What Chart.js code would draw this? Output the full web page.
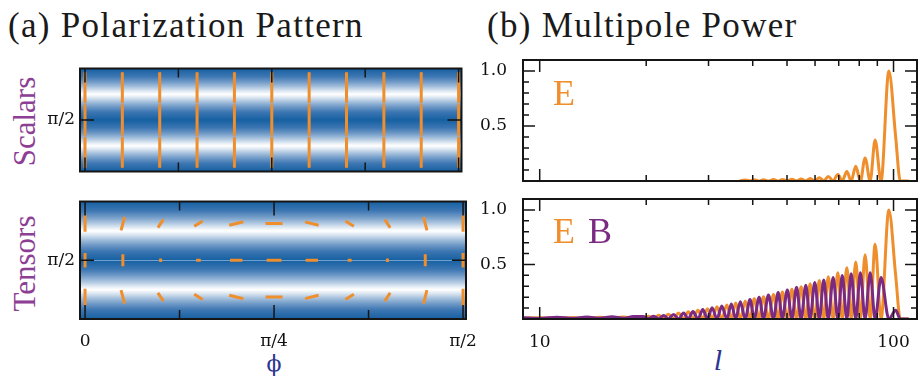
<!DOCTYPE html>
<html lang="en">
<head>
<meta charset="UTF-8">
<title>Polarization Pattern / Multipole Power</title>
<script src="https://cdn.jsdelivr.net/npm/chart.js@4"></script>
<style>
    body {
        margin: 0;
        padding: 0;
        width: 920px;
        height: 376px;
        position: relative;
        overflow: hidden;
        background: #fff;
        font-family: 'Liberation Serif', 'DejaVu Serif', serif;
        color: #1a1a1a;
    }
    canvas { position: absolute; }
    .txt { position: absolute; white-space: nowrap; line-height: 1; }
    .title { font-size: 35px; letter-spacing: 1.3px; top: 8px; }
    .side { font-size: 31px; color: #8d3f95; width: 200px; height: 31px; text-align: center; transform: rotate(-90deg); }
    .tag { font-size: 36px; }
    .axis { color: #2c3592; transform: translate(-50%, -50%); }
</style>
</head>
<body>

<div class="txt title" style="left:8px;">(a) Polarization Pattern</div>
<div class="txt title" style="left:487px;">(b) Multipole Power</div>
<div class="txt side" style="left:-76px; top:106px;">Scalars</div>
<div class="txt side" style="left:-76px; top:248px;">Tensors</div>
<div class="txt axis" style="left:274px; top:364px; font-size:22px; font-family:'DejaVu Serif', serif;">ϕ</div>
<div class="txt axis" style="left:718px; top:360px; font-size:30px; font-style:italic;">l</div>

<canvas id="scalarMap" width="480" height="140" style="left:0; top:50px;"></canvas>
<canvas id="tensorMap" width="480" height="160" style="left:0; top:190px;"></canvas>
<canvas id="powerE" width="450" height="140" style="left:470px; top:50px;"></canvas>
<canvas id="powerEB" width="450" height="160" style="left:470px; top:190px;"></canvas>

<div class="txt tag" style="left:553px; top:75px; color:#ef8e2c;">E</div>
<div class="txt tag" style="left:553px; top:213px; color:#ef8e2c;">E</div>
<div class="txt tag" style="left:588px; top:213px; color:#7b2a84;">B</div>

<script>
    // ---- (a) polarization pattern: stick grid ----
    const phiCols = [0, 9, 18, 27, 36, 45, 54, 63, 72, 81, 90];   // degrees
    const thetaRows = [81, 90, 99];                                // degrees
    const phiTicks = [0, 45, 90];
    const phiTickLabels = ['0', 'π/4', 'π/2'];
    const phiMinor = [22.5, 67.5];
    const thetaTicks = [90];
    const thetaTickLabels = ['π/2'];
    const bandTheta = [82.8, 97.2];   // white stripes of the intensity map

    // stick orientation (deg, clockwise from horizontal) and relative length
    const scalarAngle = [
        [90, 90, 90, 90, 90, 90, 90, 90, 90, 90, 90],
        [90, 90, 90, 90, 90, 90, 90, 90, 90, 90, 90],
        [90, 90, 90, 90, 90, 90, 90, 90, 90, 90, 90]
    ];
    const scalarAmp = [
        [1, 1, 1, 1, 1, 1, 1, 1, 1, 1, 1],
        [1, 1, 1, 1, 1, 1, 1, 1, 1, 1, 1],
        [1, 1, 1, 1, 1, 1, 1, 1, 1, 1, 1]
    ];
    const tensorAngle = [
        [90, -75, -56, -32, -14, 0, 14, 32, 57, 76, 90],
        [90, 90, 90, 0, 0, 0, 0, 0, 90, 90, 90],
        [90, 75, 56, 32, 14, 0, -14, -32, -57, -76, 90]
    ];
    const tensorAmp = [
        [0.53, 0.45, 0.32, 0.32, 0.47, 0.55, 0.45, 0.32, 0.32, 0.45, 0.53],
        [0.47, 0.39, 0.11, 0.15, 0.40, 0.48, 0.40, 0.13, 0.11, 0.39, 0.47],
        [0.53, 0.45, 0.32, 0.32, 0.47, 0.55, 0.45, 0.32, 0.32, 0.45, 0.53]
    ];

    // ---- (b) multipole power ----
    const ell = [9.0, 10.0, 11.2, 12.4, 13.6, 14.8, 16.0, 17.2, 18.4,
        19.6, 20.3, 21.0, 21.7, 22.4, 23.1, 23.9, 24.7, 25.5, 26.3, 27.1, 28.0, 28.9, 29.8,
        30.7, 31.7, 32.7, 33.8, 34.8, 35.8, 36.9, 38.1, 39.3, 40.4, 41.7, 42.9, 44.3, 45.8,
        47.2, 48.5, 50.1, 51.6, 53.2, 54.8, 56.5, 58.1, 59.9, 61.7, 63.5, 65.4, 67.5, 69.6,
        71.6, 73.8, 75.9, 78.2, 80.6, 83.1, 85.9, 88.7, 92.2, 97.0, 101.4, 104.5, 110.0];
    const eScalar = [null, null, null, null, null, null, null, null, null,
        null, null, null, null, null, null, null, null, null, null, null, null, null, null,
        null, null, null, null, null, null, 0.002, 0.010, 0, 0.011, 0, 0.012, 0, 0.013,
        0, 0.014, 0, 0.016, 0, 0.019, 0, 0.023, 0, 0.030, 0, 0.042, 0, 0.060,
        0, 0.087, 0, 0.134, 0, 0.210, 0, 0.373, 0, 1.0, 0.40, 0, 0];
    const eTensor = [0.008, 0.012, 0.007, 0.013, 0.007, 0.015, 0.008, 0.018, 0.008,
        0.006, 0.026, 0.005, 0.034, 0.004, 0.043, 0.004, 0.054, 0.003, 0.066, 0.003, 0.080, 0.002, 0.095,
        0.002, 0.112, 0.002, 0.128, 0.001, 0.147, 0.001, 0.165, 0, 0.185, 0, 0.205, 0, 0.224,
        0, 0.248, 0, 0.272, 0, 0.296, 0, 0.324, 0, 0.352, 0, 0.388, 0, 0.425,
        0, 0.470, 0, 0.522, 0, 0.590, 0, 0.685, 0, 1.0, 0.40, 0, 0];
    const bTensor = [0.012, 0.005, 0.016, 0.005, 0.018, 0.006, 0.020, 0.006, 0.022,
        0.024, 0.004, 0.026, 0.003, 0.033, 0.003, 0.042, 0.002, 0.055, 0.002, 0.068, 0.002, 0.086, 0.001,
        0.103, 0.001, 0.120, 0, 0.138, 0, 0.158, 0, 0.178, 0, 0.200, 0, 0.220, 0,
        0.243, 0, 0.266, 0, 0.290, 0, 0.310, 0, 0.335, 0, 0.357, 0, 0.380, 0,
        0.398, 0, 0.415, 0, 0.425, 0, 0.425, 0, 0.380, 0, 0.08, 0, 0];
    const ellTicks = [10, 100];
    const ellTickLabels = ['10', '100'];
    const ellMinor = [20, 30, 40, 50, 60, 70, 80, 90];
    const powerTicks = [0.5, 1.0];
    const powerTickLabels = ['0.5', '1.0'];
    const powerMinor = [0.1, 0.2, 0.3, 0.4, 0.6, 0.7, 0.8, 0.9];

    const ORANGE = '#ef8e2c';
    const PURPLE = '#7b2a84';
    const STICK_LEN = 31;
    const tickFont = { family: "'DejaVu Serif', serif", size: 17 };

    // blue intensity map behind the sticks
    const bandRamp = [[0, [255, 255, 255]], [0.8, [225, 234, 243]], [2, [170, 196, 222]],
                      [3.5, [110, 152, 198]], [5, [60, 118, 178]], [7.2, [22, 96, 162]]];
    function rampColor(d) {
        for (let i = 1; i < bandRamp.length; i++) {
            if (d <= bandRamp[i][0]) {
                const [d0, c0] = bandRamp[i - 1], [d1, c1] = bandRamp[i];
                const t = (d - d0) / (d1 - d0);
                return 'rgb(' + c0.map((c, k) => Math.round(c + (c1[k] - c) * t)).join(',') + ')';
            }
        }
        return 'rgb(' + bandRamp[bandRamp.length - 1][1].join(',') + ')';
    }
    const bandsPlugin = {
        id: 'bands',
        beforeDraw(chart) {
            const { ctx, chartArea: a, scales: { y } } = chart;
            const g = ctx.createLinearGradient(0, a.top, 0, a.bottom);
            for (let i = 0; i <= 80; i++) {
                const th = y.getValueForPixel(a.top + a.height * i / 80);
                const d = Math.min(...bandTheta.map(b => Math.abs(th - b)));
                g.addColorStop(i / 80, rampColor(d));
            }
            ctx.save();
            ctx.fillStyle = g;
            ctx.fillRect(a.left, a.top, a.width, a.height);
            ctx.restore();
        }
    };

    // box outline with inward ticks on all four sides
    const framePlugin = {
        id: 'frame',
        afterDraw(chart, args, o) {
            const { ctx, chartArea: a, scales: { x, y } } = chart;
            ctx.save();
            ctx.strokeStyle = '#151515';
            ctx.lineWidth = 1.5;
            ctx.beginPath();
            const xt = (vals, len) => vals.forEach(v => {
                const p = x.getPixelForValue(v);
                ctx.moveTo(p, a.top); ctx.lineTo(p, a.top + len);
                ctx.moveTo(p, a.bottom); ctx.lineTo(p, a.bottom - len);
            });
            const yt = (vals, len) => vals.forEach(v => {
                const p = y.getPixelForValue(v);
                ctx.moveTo(a.left, p); ctx.lineTo(a.left + len, p);
                ctx.moveTo(a.right, p); ctx.lineTo(a.right - len, p);
            });
            xt(o.xMajor, o.majorLen); xt(o.xMinor, o.minorLen);
            yt(o.yMajor, o.majorLen); yt(o.yMinor, o.minorLen);
            ctx.stroke();
            ctx.lineWidth = 2;
            ctx.strokeRect(a.left, a.top, a.width, a.height);
            ctx.restore();
        }
    };

    function stickData(angles, amps) {
        const pts = [], rot = [], rad = [];
        thetaRows.forEach((th, r) => phiCols.forEach((ph, c) => {
            pts.push({ x: ph, y: th });
            rot.push(angles[r][c]);
            rad.push(amps[r][c] * STICK_LEN / 2);
        }));
        return { pts, rot, rad };
    }

    function makeMap(id, angles, amps, padTop, xHeight, showX, midLine) {
        const s = stickData(angles, amps);
        return new Chart(document.getElementById(id), {
            type: 'scatter',
            data: {
                datasets: [{
                    data: s.pts,
                    pointStyle: 'line',
                    pointRotation: s.rot,
                    pointRadius: s.rad,
                    pointHoverRadius: s.rad,
                    pointBorderColor: ORANGE,
                    pointBackgroundColor: ORANGE,
                    pointBorderWidth: 3
                }]
            },
            options: {
                responsive: false,
                animation: false,
                devicePixelRatio: 1,
                events: [],
                layout: { padding: { top: padTop, right: 14, bottom: 0, left: 0 } },
                plugins: {
                    legend: { display: false },
                    tooltip: { enabled: false },
                    frame: { xMajor: phiTicks, xMinor: phiMinor, yMajor: thetaTicks, yMinor: [], majorLen: 14, minorLen: 9 }
                },
                scales: {
                    x: {
                        type: 'linear', min: -1.2, max: 90.7,
                        afterBuildTicks: sc => { sc.ticks = phiTicks.map(v => ({ value: v })); },
                        afterFit: sc => { sc.height = xHeight; sc.paddingLeft = 0; sc.paddingRight = 0; },
                        grid: { display: false },
                        border: { display: false },
                        ticks: { display: showX, padding: 4, font: tickFont, color: '#111', maxRotation: 0,
                                 callback: (v, i) => phiTickLabels[i] }
                    },
                    y: {
                        type: 'linear', reverse: true, min: 75.6, max: 104.4,
                        afterBuildTicks: sc => { sc.ticks = thetaTicks.map(v => ({ value: v })); },
                        afterFit: sc => { sc.width = 80; sc.paddingTop = 0; sc.paddingBottom = 0; },
                        grid: { display: midLine, drawTicks: false, color: 'rgba(150,190,228,0.7)', lineWidth: 1 },
                        border: { display: false },
                        ticks: { padding: 5, font: tickFont, color: '#111', callback: (v, i) => thetaTickLabels[i] }
                    }
                }
            },
            plugins: [bandsPlugin, framePlugin]
        });
    }

    function series(values, color) {
        return {
            data: ell.map((l, i) => ({ x: l, y: values[i] })).filter(p => p.y !== null),
            borderColor: color,
            borderWidth: 3,
            pointRadius: 0,
            fill: false,
            cubicInterpolationMode: 'monotone',
            borderJoinStyle: 'round',
            borderCapStyle: 'round'
        };
    }

    function makePower(id, datasets, padTop, xHeight, showX) {
        return new Chart(document.getElementById(id), {
            type: 'line',
            data: { datasets },
            options: {
                responsive: false,
                animation: false,
                devicePixelRatio: 1,
                events: [],
                layout: { padding: { top: padTop, right: 3, bottom: 0, left: 0 } },
                plugins: {
                    legend: { display: false },
                    tooltip: { enabled: false },
                    frame: { xMajor: ellTicks, xMinor: ellMinor, yMajor: powerTicks, yMinor: powerMinor, majorLen: 12, minorLen: 6 }
                },
                scales: {
                    x: {
                        type: 'logarithmic', min: 8.97, max: 116.5,
                        afterBuildTicks: sc => { sc.ticks = ellTicks.map(v => ({ value: v })); },
                        afterFit: sc => { sc.height = xHeight; sc.paddingLeft = 0; sc.paddingRight = 0; },
                        grid: { display: false },
                        border: { display: false },
                        ticks: { display: showX, padding: 5, font: tickFont, color: '#111', maxRotation: 0,
                                 callback: (v, i) => ellTickLabels[i] }
                    },
                    y: {
                        type: 'linear', min: 0, max: 1.1,
                        afterBuildTicks: sc => { sc.ticks = powerTicks.map(v => ({ value: v })); },
                        afterFit: sc => { sc.width = 53; sc.paddingTop = 0; sc.paddingBottom = 0; },
                        grid: { display: false },
                        border: { display: false },
                        ticks: { padding: 8, font: tickFont, color: '#111', callback: (v, i) => powerTickLabels[i] }
                    }
                }
            },
            plugins: [framePlugin]
        });
    }

    makeMap('scalarMap', scalarAngle, scalarAmp, 11, 8, false, false);
    makeMap('tensorMap', tensorAngle, tensorAmp, 8, 31, true, true);
    makePower('powerE', [series(eScalar, ORANGE)], 10, 9, false);
    // B first so it is drawn on top of E
    makePower('powerEB', [series(bTensor, PURPLE), series(eTensor, ORANGE)], 9, 31, true);
</script>
</body>
</html>
